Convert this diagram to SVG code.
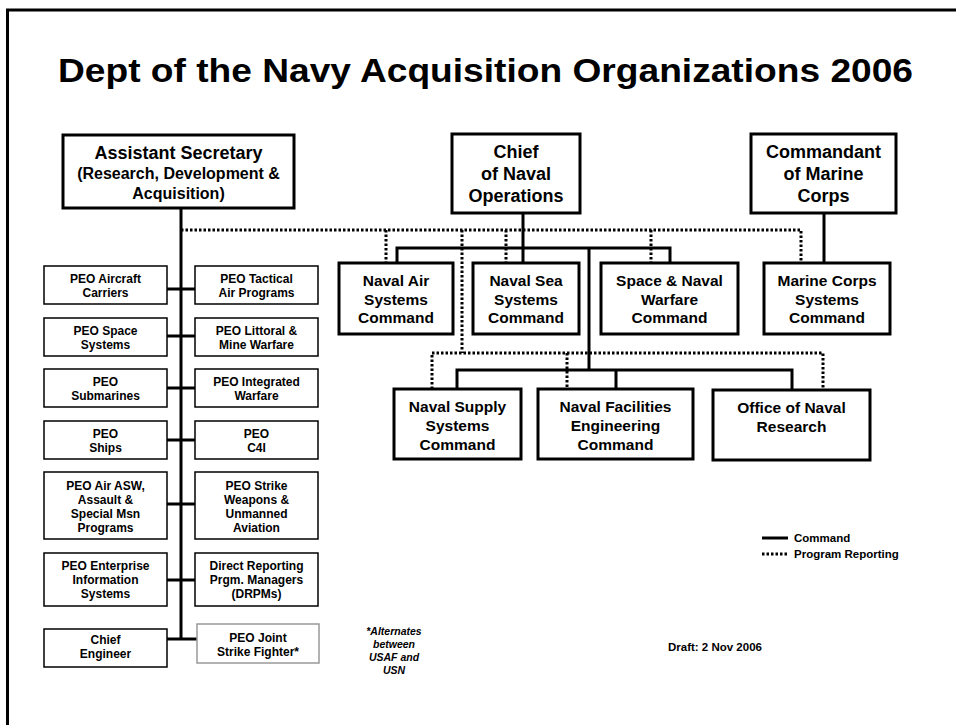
<svg xmlns="http://www.w3.org/2000/svg" width="956" height="725" viewBox="0 0 956 725">
<style>
text{font-family:"Liberation Sans",Arial,sans-serif;font-weight:bold;fill:#000;text-anchor:middle}
.big{stroke:#000;stroke-width:3;fill:#fff}
.peo{stroke:#000;stroke-width:1.5;fill:#fff}
.jsf{stroke:#999;stroke-width:1.5;fill:#fff}
.t18{font-size:18px}
.t16{font-size:16px}
.t15{font-size:15.5px}
.t12{font-size:12px}
.cmd{stroke:#000;stroke-width:3;fill:none}
.prg{stroke:#000;stroke-width:3;fill:none;stroke-dasharray:2.5 2}
</style>
<rect x="0" y="0" width="956" height="725" fill="#fff"/>
<path d="M7.5 730 V10 H960" fill="none" stroke="#000" stroke-width="3"/>
<text x="58" y="82" style="font-size:33px;text-anchor:start" textLength="855" lengthAdjust="spacingAndGlyphs">Dept of the Navy Acquisition Organizations 2006</text>

<g id="connectors">
<path class="cmd" d="M181 208 V639 M167 289 H195 M167 336 H195 M167 388 H195 M167 440 H195 M167 504 H195 M167 580 H195 M167 639 H197"/>
<path class="cmd" d="M523 213 V263 M397 263 V248 H670 V263 M589 248 V370 M457 389 V370 H792 V389 M616 370 V389 M824 213 V263"/>
<path class="prg" d="M181 230 H801 V263 M386 230 V263 M506 230 V263 M651 230 V263 M462 230 V353 M432 389 V353 H823 V390 M567 353 V389"/>
</g>

<g id="asn"><rect class="big" x="63" y="135" width="231" height="73"/>
<text class="t18" x="178.5" y="159">Assistant Secretary</text>
<text class="t16" x="178.5" y="179">(Research, Development &amp;</text>
<text class="t16" x="178.5" y="199">Acquisition)</text></g>

<g id="cno"><rect class="big" x="452" y="134" width="128" height="79"/>
<text class="t18" x="516" y="158">Chief</text>
<text class="t18" x="516" y="180">of Naval</text>
<text class="t18" x="516" y="202">Operations</text></g>

<g id="cmc"><rect class="big" x="751" y="134" width="145" height="79"/>
<text class="t18" x="823.5" y="158">Commandant</text>
<text class="t18" x="823.5" y="180">of Marine</text>
<text class="t18" x="823.5" y="202">Corps</text></g>

<g id="navair"><rect class="big" x="339" y="263" width="114" height="71"/>
<text class="t15" x="396" y="286">Naval Air</text>
<text class="t15" x="396" y="304.5">Systems</text>
<text class="t15" x="396" y="323">Command</text></g>

<g id="navsea"><rect class="big" x="473" y="263" width="106" height="71"/>
<text class="t15" x="526" y="286">Naval Sea</text>
<text class="t15" x="526" y="304.5">Systems</text>
<text class="t15" x="526" y="323">Command</text></g>

<g id="spawar"><rect class="big" x="601" y="263" width="137" height="71"/>
<text class="t15" x="669.5" y="286">Space &amp; Naval</text>
<text class="t15" x="669.5" y="304.5">Warfare</text>
<text class="t15" x="669.5" y="323">Command</text></g>

<g id="marcorsyscom"><rect class="big" x="764" y="263" width="126" height="71"/>
<text class="t15" x="827" y="286">Marine Corps</text>
<text class="t15" x="827" y="304.5">Systems</text>
<text class="t15" x="827" y="323">Command</text></g>

<g id="navsup"><rect class="big" x="394" y="389" width="127" height="70"/>
<text class="t15" x="457.5" y="412">Naval Supply</text>
<text class="t15" x="457.5" y="431">Systems</text>
<text class="t15" x="457.5" y="450">Command</text></g>

<g id="navfac"><rect class="big" x="538" y="389" width="155" height="70"/>
<text class="t15" x="615.5" y="412">Naval Facilities</text>
<text class="t15" x="615.5" y="431">Engineering</text>
<text class="t15" x="615.5" y="450">Command</text></g>

<g id="onr"><rect class="big" x="713" y="390" width="157" height="70"/>
<text class="t15" x="791.5" y="413">Office of Naval</text>
<text class="t15" x="791.5" y="432">Research</text></g>

<g id="peo-carriers"><rect class="peo" x="44" y="266" width="123" height="38"/>
<text class="t12" x="105.5" y="283">PEO Aircraft</text><text class="t12" x="105.5" y="296.5">Carriers</text></g>
<g id="peo-tactair"><rect class="peo" x="195" y="266" width="123" height="38"/>
<text class="t12" x="256.5" y="283">PEO Tactical</text><text class="t12" x="256.5" y="296.5">Air Programs</text></g>

<g id="peo-space"><rect class="peo" x="44" y="318" width="123" height="38"/>
<text class="t12" x="105.5" y="335">PEO Space</text><text class="t12" x="105.5" y="348.5">Systems</text></g>
<g id="peo-lmw"><rect class="peo" x="195" y="318" width="123" height="38"/>
<text class="t12" x="256.5" y="335">PEO Littoral &amp;</text><text class="t12" x="256.5" y="348.5">Mine Warfare</text></g>

<g id="peo-subs"><rect class="peo" x="44" y="369" width="123" height="38"/>
<text class="t12" x="105.5" y="386">PEO</text><text class="t12" x="105.5" y="399.5">Submarines</text></g>
<g id="peo-iwf"><rect class="peo" x="195" y="369" width="123" height="38"/>
<text class="t12" x="256.5" y="386">PEO Integrated</text><text class="t12" x="256.5" y="399.5">Warfare</text></g>

<g id="peo-ships"><rect class="peo" x="44" y="421" width="123" height="38"/>
<text class="t12" x="105.5" y="438">PEO</text><text class="t12" x="105.5" y="451.5">Ships</text></g>
<g id="peo-c4i"><rect class="peo" x="195" y="421" width="123" height="38"/>
<text class="t12" x="256.5" y="438">PEO</text><text class="t12" x="256.5" y="451.5">C4I</text></g>

<g id="peo-asw"><rect class="peo" x="44" y="472" width="123" height="67"/>
<text class="t12" x="105.5" y="490">PEO Air ASW,</text><text class="t12" x="105.5" y="504">Assault &amp;</text>
<text class="t12" x="105.5" y="518">Special Msn</text><text class="t12" x="105.5" y="532">Programs</text></g>
<g id="peo-strike"><rect class="peo" x="195" y="472" width="123" height="67"/>
<text class="t12" x="256.5" y="490">PEO Strike</text><text class="t12" x="256.5" y="504">Weapons &amp;</text>
<text class="t12" x="256.5" y="518">Unmanned</text><text class="t12" x="256.5" y="532">Aviation</text></g>

<g id="peo-eis"><rect class="peo" x="44" y="553" width="123" height="53"/>
<text class="t12" x="105.5" y="570">PEO Enterprise</text><text class="t12" x="105.5" y="584">Information</text><text class="t12" x="105.5" y="598">Systems</text></g>
<g id="drpm"><rect class="peo" x="195" y="553" width="123" height="53"/>
<text class="t12" x="256.5" y="570">Direct Reporting</text><text class="t12" x="256.5" y="584">Prgm. Managers</text><text class="t12" x="256.5" y="598">(DRPMs)</text></g>

<g id="chief-eng"><rect class="peo" x="44" y="629" width="123" height="38"/>
<text class="t12" x="105.5" y="644">Chief</text><text class="t12" x="105.5" y="658">Engineer</text></g>
<g id="peo-jsf"><rect class="jsf" x="197" y="624" width="122" height="39"/>
<text class="t12" x="258" y="642">PEO Joint</text><text class="t12" x="258" y="656">Strike Fighter*</text></g>

<g id="footnote" style="font-size:10.5px;font-style:italic">
<text x="394" y="635">*Alternates</text><text x="394" y="648">between</text>
<text x="394" y="661">USAF and</text><text x="394" y="674">USN</text></g>

<g id="legend">
<line x1="762" y1="538" x2="788" y2="538" class="cmd"/>
<line x1="762" y1="554" x2="788" y2="554" class="prg"/>
<text x="794" y="542" style="font-size:11.5px;text-anchor:start">Command</text>
<text x="794" y="558" style="font-size:11.5px;text-anchor:start">Program Reporting</text>
</g>
<text x="668" y="651" style="font-size:11.5px;text-anchor:start">Draft: 2 Nov 2006</text>
</svg>
